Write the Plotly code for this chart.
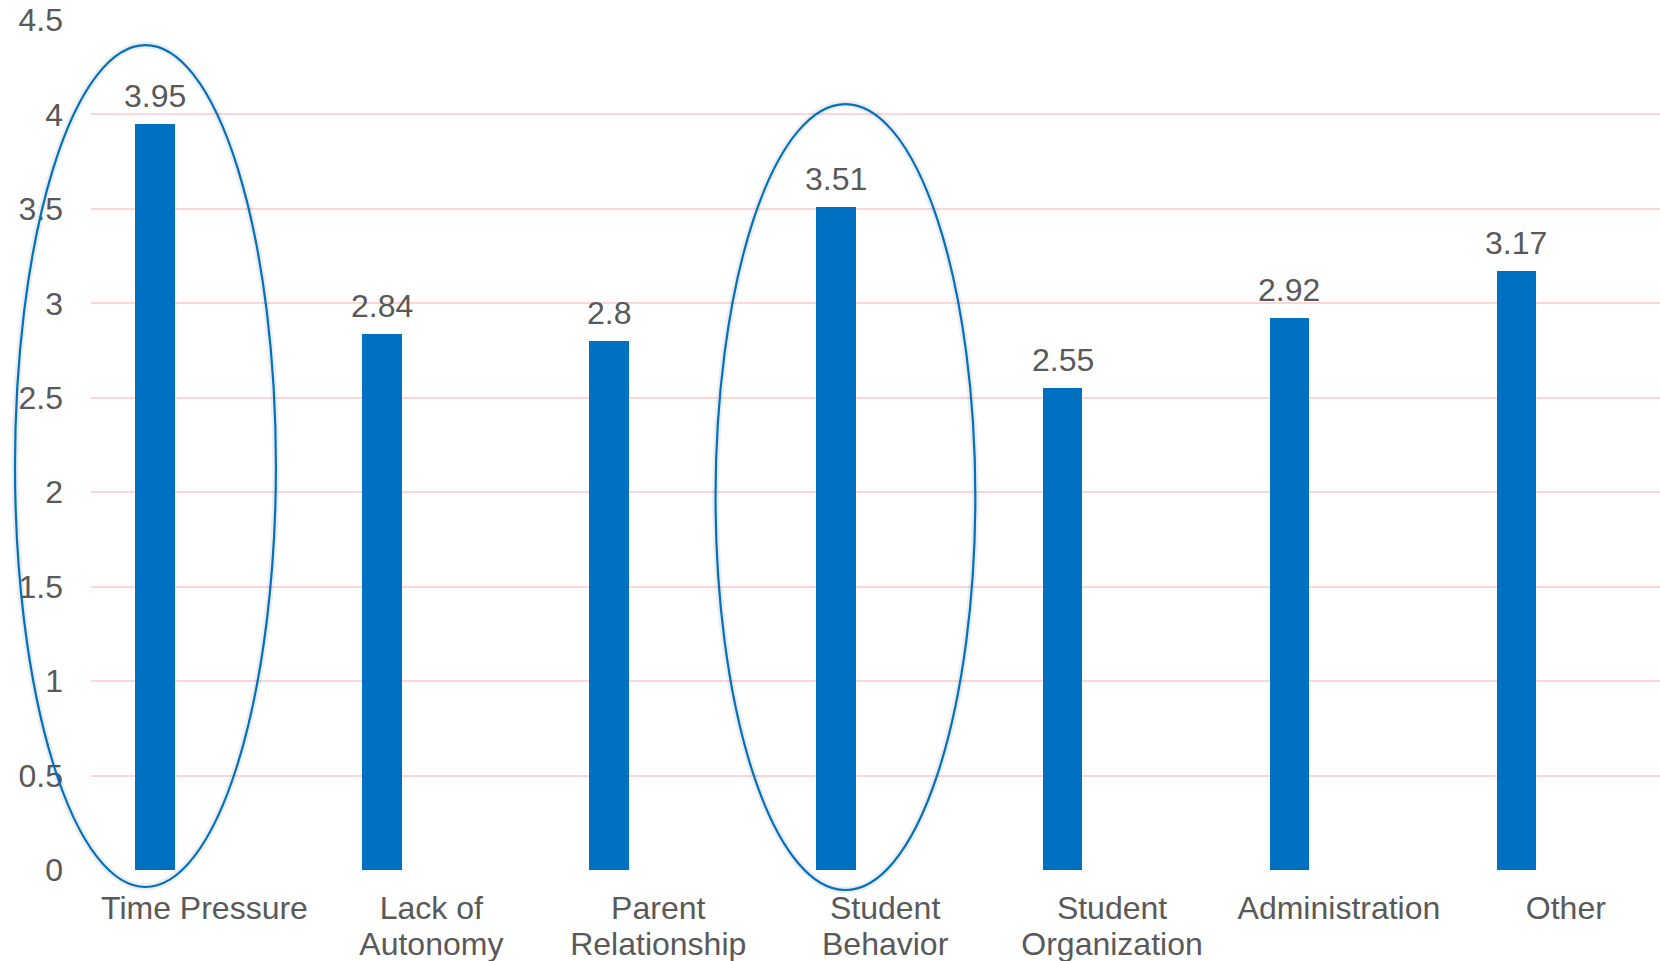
import plotly.graph_objects as go

# Mean stress rating per source
categories = ["Time Pressure", "Lack of Autonomy", "Parent Relationship",
              "Student Behavior", "Student Organization", "Administration", "Other"]
tick_lines = [["Time Pressure"], ["Lack of", "Autonomy"], ["Parent", "Relationship"],
              ["Student", "Behavior"], ["Student", "Organization"], ["Administration"], ["Other"]]
scores = [3.95, 2.84, 2.80, 3.51, 2.55, 2.92, 3.17]
score_labels = ["3.95", "2.84", "2.8", "3.51", "2.55", "2.92", "3.17"]
highlighted = ["Time Pressure", "Student Behavior"]

# Styling / geometry
W, H = 1660, 961
M_L, M_R, M_T, M_B = 91, 0, 20, 91
X_RANGE = [-0.5, 6.415]
Y_RANGE = [0, 4.5]
BAR_COLOR = "#0070C0"
TEXT_COLOR = "#595959"
GRID_COLOR = "#FFD6D6"
FONT = "Liberation Sans, Arial, sans-serif"
FS = 32
LINE_GAP = 36               # baseline-to-baseline distance of category labels
BAR_WIDTH = 0.175
BAR_SHIFT = -0.218          # bar centre relative to category centre
# ellipse extents around highlighted bars: (x shift, half width, y low, y high)
ELLIPSES = {
    "Time Pressure": (-0.042, 0.575, -0.09, 4.367),
    "Student Behavior": (0.043, 0.5725, -0.106, 4.055),
}

# category labels: base size sets the line pitch, inner span sets glyph size
base_fs = LINE_GAP / 1.3
tick_text = ["<br>".join(f"<span style='font-size:{FS}px'>{ln}</span>" for ln in lines)
             for lines in tick_lines]

fig = go.Figure()
fig.add_trace(go.Bar(
    x=categories, y=scores,
    width=BAR_WIDTH, offset=BAR_SHIFT - BAR_WIDTH / 2,
    marker=dict(color=BAR_COLOR, line=dict(width=0)),
    hoverinfo="x+y", showlegend=False,
))

# value labels above the bars
for i, (v, t) in enumerate(zip(scores, score_labels)):
    fig.add_annotation(
        x=i + BAR_SHIFT, y=v, xref="x", yref="y", text=t, showarrow=False,
        yanchor="middle", yshift=28,
        font=dict(family=FONT, size=FS, color=TEXT_COLOR),
    )


def to_paper_x(v):
    return (v - X_RANGE[0]) / (X_RANGE[1] - X_RANGE[0])


def to_paper_y(v):
    return (v - Y_RANGE[0]) / (Y_RANGE[1] - Y_RANGE[0])


for name in highlighted:
    i = categories.index(name)
    dx, hw, ylo, yhi = ELLIPSES[name]
    cx = i + BAR_SHIFT + dx
    box = dict(x0=to_paper_x(cx - hw), x1=to_paper_x(cx + hw),
               y0=to_paper_y(ylo), y1=to_paper_y(yhi))
    # soft shadow under the outline
    fig.add_shape(type="circle", xref="paper", yref="paper", layer="above",
                  line=dict(color="rgba(0,0,0,0.07)", width=7), **box)
    fig.add_shape(type="circle", xref="paper", yref="paper", layer="above",
                  line=dict(color=BAR_COLOR, width=2.2), **box)

fig.update_layout(
    width=W, height=H,
    margin=dict(l=M_L, r=M_R, t=M_T, b=M_B, pad=0),
    paper_bgcolor="white", plot_bgcolor="white",
    font=dict(family=FONT, size=FS, color=TEXT_COLOR),
    bargap=0,
    xaxis=dict(
        type="category", range=X_RANGE,
        tickvals=categories, ticktext=tick_text,
        showgrid=False, zeroline=False, showline=False, ticks="",
        ticklabelstandoff=20,
        tickfont=dict(family=FONT, size=base_fs, color=TEXT_COLOR),
    ),
    yaxis=dict(
        range=Y_RANGE, dtick=0.5, tick0=0,
        showgrid=True, gridcolor=GRID_COLOR, gridwidth=2,
        zeroline=False, showline=False, ticks="",
        ticklabelstandoff=27,
        tickfont=dict(family=FONT, size=FS, color=TEXT_COLOR),
    ),
)

fig.write_html("out.html")
